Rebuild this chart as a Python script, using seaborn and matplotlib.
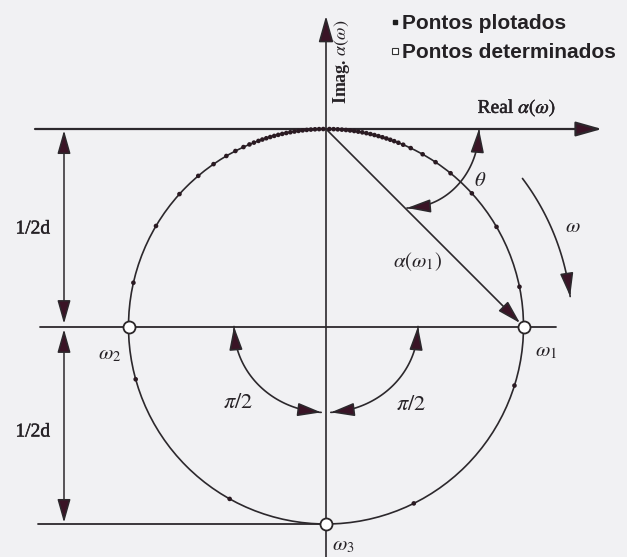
import numpy as np
import pandas as pd
import matplotlib
matplotlib.use("Agg")
import matplotlib.pyplot as plt
import matplotlib.patheffects as pe
from matplotlib.lines import Line2D
from matplotlib.patches import Circle
import seaborn as sns

sns.set_theme(style="white")
plt.rcParams["mathtext.fontset"] = "stix"

# ---- data -------------------------------------------------------------
# Locus of alpha(omega): a circle of diameter 1/d (d = 1) whose top touches the origin
RADIUS = 0.5
CENTER_RE, CENTER_IM = 0.0, -0.5

# angular position (deg, counter-clockwise from +Real, about the circle centre)
# of every plotted frequency point; they crowd together near the origin
plotted_deg = [89.0, 87.8, 86.6, 85.4, 84.2, 83.0, 81.8, 80.6, 79.4, 78.2, 77.0,
               75.8, 74.6, 73.4, 72.2, 71.0, 69.8, 68.5, 67.0, 64.6, 60.7, 56.3,
               50.9, 42.4, 30.3, 11.6, -17.4, -63.6, -119.2, -164.5, 167.2,
               149.4, 137.9, 130.3, 124.7, 120.3, 117.3, 114.7, 112.8, 111.4,
               110.0, 108.8, 107.6, 106.4, 105.2, 104.0, 102.8, 101.6, 100.4,
               99.2, 98.0, 96.8, 95.6, 94.4, 93.2, 92.0, 90.8]
# points determined analytically: omega_1, omega_3, omega_2
determined_deg = [0.0, -90.0, 180.0]
determined_names = [r"$\omega_1$", r"$\omega_3$", r"$\omega_2$"]

legend_labels = ["Pontos plotados", "Pontos determinados"]


def on_circle(deg):
    a = np.radians(np.asarray(deg, dtype=float))
    return CENTER_RE + RADIUS * np.cos(a), CENTER_IM + RADIUS * np.sin(a)


px_re, px_im = on_circle(plotted_deg)
dt_re, dt_im = on_circle(determined_deg)
plotted = pd.DataFrame({"re": px_re, "im": px_im})
determined = pd.DataFrame({"re": dt_re, "im": dt_im, "name": determined_names})

# ---- layout helpers (page pixels -> data units) -------------------------
W, H = 627, 557
X0, Y0, S = 326.0, 129.0, 395.0


def P(x, y):
    return ((x - X0) / S, (Y0 - y) / S)


INK = "#2c282c"
HEAD = "#3a1426"
BG = "#f1f1f3"

fig = plt.figure(figsize=(W / 100, H / 100), dpi=100, facecolor=BG)
ax = fig.add_axes([0, 0, 1, 1])
ax.set_facecolor(BG)
ax.set_xlim(P(0, 0)[0], P(W, 0)[0])
ax.set_ylim(P(0, H)[1], P(0, 0)[1])
ax.axis("off")

head = "-|>,head_length=0.85,head_width=0.24"
dbl = "<|-|>,head_length=0.85,head_width=0.24"


def arrow(p_from, p_to, style=head, lw=1.3, color=INK, sb=0.0, sa=0.0, ms=17):
    ax.annotate("", xy=p_to, xytext=p_from,
                arrowprops=dict(arrowstyle=style, color=color, lw=lw,
                                mutation_scale=ms, shrinkA=sa, shrinkB=sb,
                                fc=HEAD, ec=color))


# axes of the plane
arrow(P(35, Y0), P(602, Y0), lw=1.6, ms=19)
arrow(P(X0, H + 5), P(X0, 16), lw=1.2, ms=19)

# reference lines through the centre and through omega_3
cy = CENTER_IM
ax.plot([P(40, 0)[0], P(556, 0)[0]], [cy, cy], color=INK, lw=1.3, zorder=1)
bot = CENTER_IM - RADIUS
ax.plot([P(38, 0)[0], 0.0], [bot, bot], color=INK, lw=1.3, zorder=1)

# dimension arrows: 1/2d each
xd = P(64, 0)[0]
arrow((xd, 0.0), (xd, cy), style=dbl, lw=1.1, sa=1, sb=2)
arrow((xd, cy), (xd, bot), style=dbl, lw=1.1, sa=2, sb=1)

serif = dict(family="Liberation Serif", color="#262226")
thick = [pe.withStroke(linewidth=0.35, foreground="#262226")]
ax.text(*P(33, 229), "1/2d", ha="center", va="center", fontsize=14,
        path_effects=thick, **serif)
ax.text(*P(33, 432), "1/2d", ha="center", va="center", fontsize=14,
        path_effects=thick, **serif)

# the circle itself
ax.add_patch(Circle((CENTER_RE, CENTER_IM), RADIUS, fill=False, ec=INK, lw=1.2, zorder=2))

# vector alpha(omega_1)
arrow((0.0, 0.0), (dt_re[0], dt_im[0]), lw=1.2, sb=3.5)

# plotted and determined points
sns.scatterplot(data=plotted, x="re", y="im", ax=ax, s=11, color="#2a1a22",
                edgecolor="none", zorder=3, legend=False)
sns.scatterplot(data=determined, x="re", y="im", ax=ax, s=75, facecolor="white",
                edgecolor="#2a2628", linewidth=1.3, zorder=4, legend=False)


def arc(cx, cy_, rx, ry, a0, a1, n=60):
    t = np.radians(np.linspace(a0, a1, n))
    xs = (cx - X0 + rx * np.cos(t)) / S
    ys = (Y0 - cy_ + ry * np.sin(t)) / S
    return xs, ys


def arc_with_heads(cx, cy_, rx, ry, a0, a1, start_head, end_head, lw=1.2):
    xs, ys = arc(cx, cy_, rx, ry, a0, a1)
    ax.plot(xs, ys, color=INK, lw=lw, zorder=2)
    k = 7
    if end_head:
        arrow((xs[-k], ys[-k]), (xs[-1], ys[-1]), lw=lw)
    if start_head:
        arrow((xs[k - 1], ys[k - 1]), (xs[0], ys[0]), lw=lw)


# theta: between the real axis and alpha(omega_1)
arc_with_heads(407, Y0, 72, 79, 0, -90, True, True)
# direction of increasing omega
arc_with_heads(X0, 326.5, 246, 246, 37, 7, False, True)
# the two right angles below omega_2 - omega_1
arc_with_heads(X0, 326.5, 92, 86, 180, 267, True, True)
arc_with_heads(X0, 326.5, 92, 86, 0, -87, True, True)

# annotations
ax.text(*P(517, 108), r"Real $\alpha(\omega)$", ha="center", va="center",
        fontsize=14, path_effects=thick, **serif)
ax.text(*P(341, 62), r"Imag. $\alpha(\omega)$", ha="center", va="center",
        rotation=90, fontsize=13, fontweight="bold", **serif)
ax.text(*P(480, 182), r"$\theta$", ha="center", va="center", fontsize=15, **serif)
ax.text(*P(573, 228), r"$\omega$", ha="center", va="center", fontsize=15, **serif)
ax.text(*P(417, 262), r"$\alpha(\omega_1)$", ha="center", va="center",
        fontsize=15, **serif)
ax.text(*P(238, 404), r"$\pi/2$", ha="center", va="center", fontsize=16, **serif)
ax.text(*P(411, 406), r"$\pi/2$", ha="center", va="center", fontsize=16, **serif)
label_pos = [(546, 352), (343, 546), (110, 355)]
for name, (lx, ly) in zip(determined["name"], label_pos):
    ax.text(*P(lx, ly), name, ha="center", va="center", fontsize=15, **serif)

# legend of point types
handles = [
    Line2D([], [], ls="none", marker="s", ms=2.6, mfc="#1e1e1e", mec="#1e1e1e"),
    Line2D([], [], ls="none", marker="s", ms=3.8, mfc="white", mec="#333333", mew=0.8),
]
leg = ax.legend(handles, legend_labels, loc="upper left",
                bbox_to_anchor=(392 / W, 1 - 14 / H), frameon=False,
                handlelength=0.3, handletextpad=0.2, labelspacing=0.5,
                borderaxespad=0, borderpad=0,
                prop=dict(family="Liberation Sans", weight="bold", size=15))
for t in leg.get_texts():
    t.set_color("#242124")

fig.savefig("out.png", dpi=100, facecolor=BG)
